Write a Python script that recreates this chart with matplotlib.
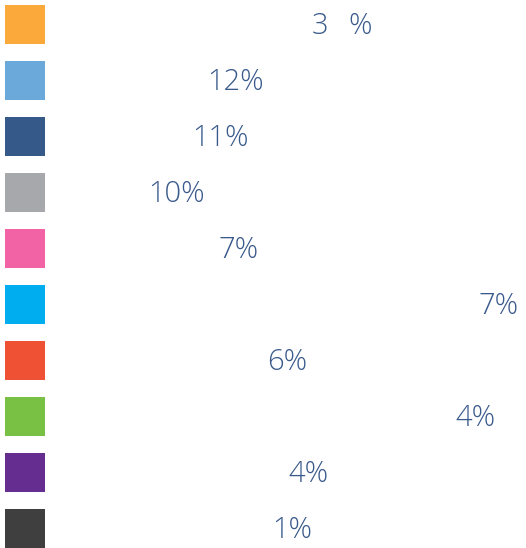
import matplotlib.pyplot as plt

# share of each category (labels are unreadable in the reference)
shares = [38, 12, 11, 10, 7, 7, 6, 4, 4, 1]
colors = ['#FBA93A', '#6CA9DB', '#355A8A', '#A7A8AB', '#F263A6',
          '#00AEEF', '#EF5135', '#78C144', '#662D91', '#3F3F3F']
# where the percentage text starts in each row (after the hidden label)
text_x = [312, 207, 192, 148, 218, 478, 267, 455, 288, 272]

W, H = 526, 548
fig = plt.figure(figsize=(W / 100, H / 100), dpi=100)
ax = fig.add_axes([0, 0, 1, 1])
ax.set_xlim(0, W)
ax.set_ylim(H, 0)
ax.axis('off')

row_gap = 56
y_mid = [24.5 + row_gap * i for i in range(len(shares))]

ax.barh(y_mid, width=40, left=5, height=39, color=colors)

txt_color = '#3A5A8C'
font = dict(color=txt_color, fontsize=21, family='Open Sans',
            fontweight='light', va='center', ha='left')
for i, s in enumerate(shares):
    y = y_mid[i] + 1.5
    if i == 0:
        # the second digit is covered in the reference
        ax.text(text_x[i], y, str(s)[0], **font)
        ax.text(348, y, '%', **font)
    else:
        ax.text(text_x[i], y, f'{s}%', **font)

fig.savefig('out.png', dpi=100)
